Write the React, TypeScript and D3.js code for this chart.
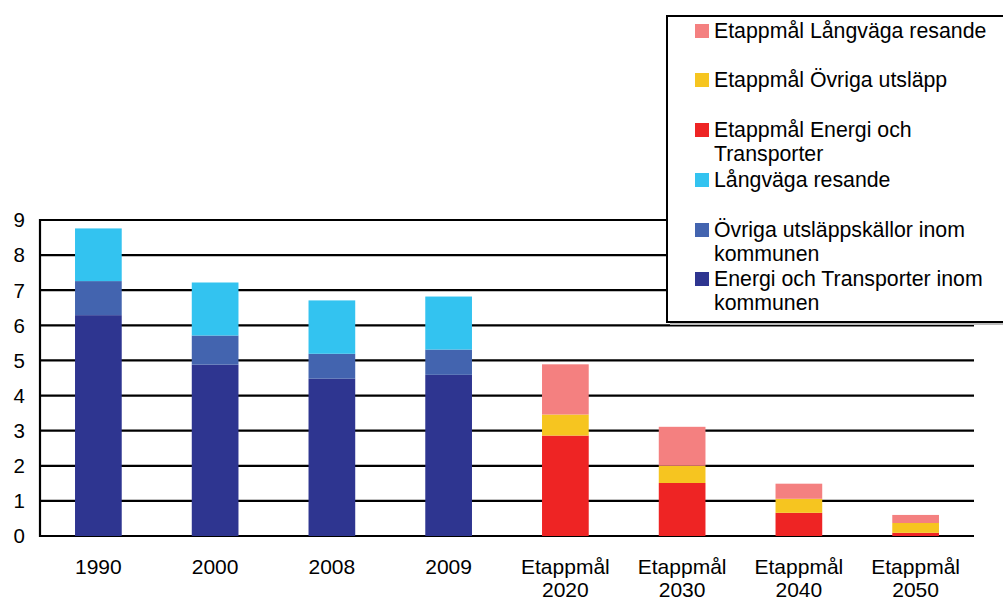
import * as d3 from "d3";

// Kategorier (x-axel)
const KATEGORIER = [
  "1990",
  "2000",
  "2008",
  "2009",
  "Etappmål 2020",
  "Etappmål 2030",
  "Etappmål 2040",
  "Etappmål 2050",
];

// Historiska värden
const ENERGI = [6.29, 4.88, 4.48, 4.59, 0, 0, 0, 0];
const OVRIGA = [0.97, 0.83, 0.71, 0.72, 0, 0, 0, 0];
const LANGVAGA = [1.5, 1.51, 1.52, 1.51, 0, 0, 0, 0];

// Etappmål
const ETAPP_ENERGI = [0, 0, 0, 0, 2.86, 1.51, 0.66, 0.09];
const ETAPP_OVRIGA = [0, 0, 0, 0, 0.6, 0.49, 0.4, 0.28];
const ETAPP_LANGVAGA = [0, 0, 0, 0, 1.43, 1.11, 0.43, 0.23];

const Y_TICKS = [0, 1, 2, 3, 4, 5, 6, 7, 8, 9];

// Staplingsordning nerifrån och upp
const SERIER = [
  { namn: "Energi och Transporter inom kommunen", varden: ENERGI, farg: "#2e3590" },
  { namn: "Övriga utsläppskällor inom kommunen", varden: OVRIGA, farg: "#4364af" },
  { namn: "Långväga resande", varden: LANGVAGA, farg: "#33c3f0" },
  { namn: "Etappmål Energi och Transporter", varden: ETAPP_ENERGI, farg: "#ee2424" },
  { namn: "Etappmål Övriga utsläpp", varden: ETAPP_OVRIGA, farg: "#f6c520" },
  { namn: "Etappmål Långväga resande", varden: ETAPP_LANGVAGA, farg: "#f48080" },
];

// Legendens rader (uppifrån), med radbrytningar som i originalet
const LEGEND = [
  { rader: ["Etappmål Långväga resande"], farg: "#f48080", y: 31 },
  { rader: ["Etappmål Övriga utsläpp"], farg: "#f6c520", y: 80 },
  { rader: ["Etappmål Energi och", "Transporter"], farg: "#ee2424", y: 130 },
  { rader: ["Långväga resande"], farg: "#33c3f0", y: 180 },
  { rader: ["Övriga utsläppskällor inom", "kommunen"], farg: "#4364af", y: 230 },
  { rader: ["Energi och Transporter inom", "kommunen"], farg: "#2e3590", y: 279 },
];

const W = 1003;
const H = 601;
const FONT = "'Liberation Sans', Arial, sans-serif";

export default function App() {
  const margin = { left: 40, right: 29, top: 220, bottom: 65 };
  const plotBottom = H - margin.bottom;

  const x = d3
    .scaleBand<string>()
    .domain(KATEGORIER)
    .range([margin.left, W - margin.right])
    .paddingInner(0.6)
    .paddingOuter(0.3);

  const y = d3.scaleLinear().domain([0, 9]).range([plotBottom, margin.top]);

  const keys = SERIER.map((s) => s.namn);
  const rows = KATEGORIER.map((k, i) => {
    const r: Record<string, number | string> = { kategori: k };
    SERIER.forEach((s) => (r[s.namn] = s.varden[i]));
    return r;
  });
  const stack = d3.stack<Record<string, number | string>>().keys(keys)(rows as any);

  const lineH = 24;

  return (
    <svg width={W} height={H} style={{ position: "absolute", left: 0, top: 0, fontFamily: FONT }}>
      <rect width={W} height={H} fill="#fff" />

      {/* Rutnät */}
      {Y_TICKS.map((t) => (
        <line
          key={t}
          x1={margin.left}
          x2={W - margin.right}
          y1={y(t)}
          y2={y(t)}
          stroke="#000"
          strokeWidth={2.2}
        />
      ))}
      <line x1={margin.left} x2={margin.left} y1={margin.top - 1} y2={plotBottom + 1} stroke="#000" strokeWidth={2.2} />

      {/* Staplar */}
      {stack.map((layer, si) =>
        layer.map((d, i) =>
          d[1] - d[0] > 0 ? (
            <rect
              key={`${si}-${i}`}
              x={x(KATEGORIER[i])}
              width={x.bandwidth()}
              y={y(d[1])}
              height={y(d[0]) - y(d[1])}
              fill={SERIER[si].farg}
            />
          ) : null
        )
      )}

      {/* Y-etiketter */}
      {Y_TICKS.map((t) => (
        <text key={t} x={25} y={y(t)} dy="0.36em" textAnchor="end" fontSize={20.5} fill="#000">
          {t}
        </text>
      ))}

      {/* X-etiketter */}
      {KATEGORIER.map((k) => {
        const parts = k.split(" ");
        const cx = (x(k) ?? 0) + x.bandwidth() / 2;
        return (
          <text key={k} x={cx} textAnchor="middle" fontSize={21} fill="#000">
            {parts.map((p, j) => (
              <tspan key={j} x={cx} y={574 + j * 23}>
                {p}
              </tspan>
            ))}
          </text>
        );
      })}

      {/* Legend */}
      <rect x={670} y={19} width={340} height={306} fill="#bbb" />
      <rect x={667} y={16} width={340} height={306} fill="#fff" stroke="#000" strokeWidth={2} />
      {LEGEND.map((l) => (
        <g key={l.rader[0]}>
          <rect x={695} y={l.y - 7} width={14} height={14} fill={l.farg} />
          <text x={714} fontSize={21.3} fill="#000">
            {l.rader.map((r, j) => (
              <tspan key={j} x={714} y={l.y + 7 + j * lineH}>
                {r}
              </tspan>
            ))}
          </text>
        </g>
      ))}
    </svg>
  );
}
